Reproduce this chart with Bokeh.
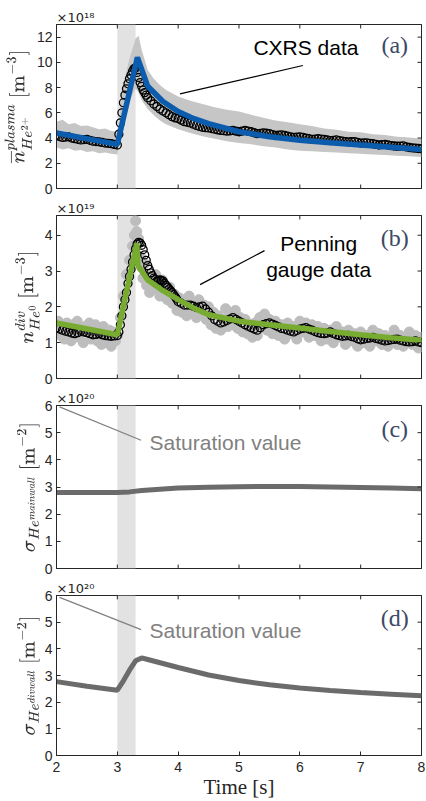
import numpy as np
from bokeh.plotting import figure
from bokeh.layouts import column
from bokeh.models import Range1d, FixedTicker, BoxAnnotation, Label
from bokeh.embed import file_html
from bokeh.resources import INLINE

# ---------------- data ----------------
shade_t = [3.0, 3.3]
x_ticks = [2, 3, 4, 5, 6, 7, 8]

# (a) CXRS helium density [1e18 m^-3]
a_fit_t = [2.0, 3.0, 3.33, 3.5, 3.75, 4.0, 4.25, 4.5, 5.0, 5.5, 6.0, 6.5, 7.0, 7.5, 8.0]
a_fit_v = [4.4, 3.5, 10.4, 8.1, 6.9, 6.1, 5.55, 5.15, 4.5, 4.1, 3.82, 3.62, 3.44, 3.27, 3.1]

a_pts_t = [2.0, 2.1, 2.2, 2.3, 2.4, 2.5, 2.6, 2.7, 2.8, 2.9, 3.0,
           3.025, 3.05, 3.075, 3.1, 3.125, 3.15, 3.175, 3.2, 3.225, 3.25, 3.275, 3.3,
           3.325, 3.35, 3.375, 3.4, 3.425, 3.45, 3.475, 3.5,
           3.6, 3.7, 3.8, 3.9, 4.0, 4.1, 4.2, 4.3, 4.4, 4.5, 4.6, 4.7, 4.8, 4.9,
           5.0, 5.1, 5.2, 5.3, 5.4, 5.5, 5.6, 5.7, 5.8, 5.9, 6.0, 6.1, 6.2, 6.3, 6.4,
           6.5, 6.6, 6.7, 6.8, 6.9, 7.0, 7.1, 7.2, 7.3, 7.4, 7.5, 7.6, 7.7, 7.8, 7.9, 8.0]
a_pts_v = [4.2, 4.05, 4.1, 3.95, 3.85, 3.9, 3.75, 3.7, 3.6, 3.55, 3.45,
           4.3, 5.2, 6.0, 6.8, 7.4, 7.9, 8.3, 8.7, 9.0, 9.3, 9.5, 9.55,
           9.2, 8.8, 8.4, 8.1, 7.8, 7.6, 7.4, 7.2,
           6.7, 6.3, 6.0, 5.7, 5.55, 5.3, 5.2, 5.0, 4.85, 4.8, 4.7, 4.6, 4.55, 4.6,
           4.5, 4.6, 4.5, 4.35, 4.4, 4.35, 4.2, 4.25, 4.15, 4.05, 4.1, 4.0, 3.9, 3.95, 3.9,
           3.8, 3.85, 3.75, 3.7, 3.72, 3.6, 3.62, 3.55, 3.45, 3.5, 3.4, 3.35, 3.38, 3.25, 3.2, 3.15]
a_pts2_t = [2.05, 2.15, 2.25, 2.35, 2.45, 2.55, 2.65, 2.75, 2.85, 2.95,
            3.55, 3.65, 3.75, 3.85, 3.95, 4.05, 4.15, 4.25, 4.35, 4.45, 4.55, 4.65, 4.75,
            4.85, 4.95, 5.05, 5.15, 5.25, 5.35, 5.45, 5.55, 5.65, 5.75, 5.85, 5.95, 6.05,
            6.15, 6.25, 6.35, 6.45, 6.55, 6.65, 6.75, 6.85, 6.95, 7.05, 7.15, 7.25, 7.35,
            7.45, 7.55, 7.65, 7.75, 7.85, 7.95]
a_pts2_v = [4.12, 4.08, 4.0, 3.9, 3.88, 3.82, 3.72, 3.65, 3.58, 3.5,
            6.95, 6.5, 6.15, 5.85, 5.6, 5.42, 5.25, 5.1, 4.92, 4.82, 4.75, 4.65, 4.58,
            4.57, 4.55, 4.55, 4.55, 4.42, 4.37, 4.38, 4.27, 4.22, 4.2, 4.1, 4.07, 4.05,
            3.95, 3.92, 3.92, 3.85, 3.82, 3.8, 3.72, 3.71, 3.66, 3.61, 3.58, 3.5, 3.47,
            3.45, 3.37, 3.36, 3.3, 3.22, 3.17]

a_band_t = [2.0, 2.1, 2.2, 2.3, 2.4, 2.5, 2.6, 2.7, 2.8, 2.9, 3.0, 3.1, 3.2, 3.3, 3.35,
            3.4, 3.5, 3.6, 3.7, 3.8, 3.9, 4.0, 4.2, 4.4, 4.6, 4.8, 5.0, 5.2, 5.4, 5.6,
            5.8, 6.0, 6.2, 6.4, 6.6, 6.8, 7.0, 7.2, 7.4, 7.6, 7.8, 8.0]
a_band_hi = [5.3, 5.45, 5.1, 5.2, 4.95, 5.0, 4.85, 4.7, 4.75, 4.55, 4.5, 8.3, 10.3, 11.9, 12.1,
             11.0, 9.4, 8.7, 8.2, 7.8, 7.55, 7.3, 6.95, 6.7, 6.45, 6.25, 6.1, 5.85, 5.6, 5.4,
             5.25, 5.1, 4.95, 4.75, 4.65, 4.5, 4.45, 4.3, 4.25, 4.1, 4.05, 3.95]
a_band_lo = [3.25, 3.1, 3.2, 3.0, 3.05, 2.9, 2.95, 2.8, 2.85, 2.75, 2.7, 5.4, 7.0, 7.9, 7.6,
             7.0, 6.3, 5.8, 5.4, 5.1, 4.9, 4.7, 4.4, 4.15, 3.95, 3.75, 3.6, 3.5, 3.35, 3.25,
             3.1, 3.0, 2.95, 2.9, 2.85, 2.8, 2.75, 2.7, 2.65, 2.6, 2.55, 2.5]

# (b) Penning gauge helium density [1e19 m^-3]
b_fit_t = [2.0, 3.0, 3.32, 3.34, 3.5, 3.75, 4.0, 4.25, 4.5, 5.0, 5.5, 6.0, 6.5, 7.0, 7.5, 8.0]
b_fit_v = [1.55, 1.22, 3.78, 3.15, 2.75, 2.45, 2.2, 1.97, 1.78, 1.6, 1.5, 1.41, 1.31, 1.22, 1.14, 1.07]

b_pts_t = [2.0, 2.1, 2.2, 2.3, 2.4, 2.5, 2.6, 2.7, 2.8, 2.9, 3.0,
           3.025, 3.05, 3.075, 3.1, 3.125, 3.15, 3.175, 3.2, 3.225, 3.25, 3.275, 3.3,
           3.325, 3.35, 3.375, 3.4, 3.425, 3.45, 3.475, 3.5, 3.525, 3.55,
           3.6, 3.65, 3.7, 3.75, 3.8, 3.85, 3.9, 3.95, 4.0, 4.1, 4.2, 4.3, 4.4, 4.5,
           4.6, 4.7, 4.8, 4.9, 5.0, 5.1, 5.2, 5.3, 5.4, 5.5, 5.6, 5.7, 5.8, 5.9, 6.0,
           6.1, 6.2, 6.3, 6.4, 6.5, 6.6, 6.7, 6.8, 6.9, 7.0, 7.1, 7.2, 7.3, 7.4, 7.5,
           7.6, 7.7, 7.8, 7.9, 8.0]
b_pts_v = [1.42, 1.35, 1.3, 1.25, 1.32, 1.28, 1.22, 1.25, 1.2, 1.18, 1.2,
           1.3, 1.5, 1.75, 2.0, 2.2, 2.4, 2.65, 2.85, 3.05, 3.25, 3.45, 3.62,
           3.75, 3.8, 3.78, 3.72, 3.6, 3.45, 3.3, 3.15, 3.05, 2.95,
           2.8, 2.72, 2.75, 2.72, 2.6, 2.5, 2.4, 2.28, 2.15, 2.05, 2.05, 1.98, 2.02, 1.85,
           1.65, 1.55, 1.62, 1.7, 1.6, 1.5, 1.42, 1.35, 1.5, 1.55, 1.48, 1.4, 1.35, 1.3, 1.38,
           1.42, 1.35, 1.28, 1.25, 1.3, 1.22, 1.18, 1.2, 1.15, 1.08, 1.12, 1.15, 1.1, 1.05, 1.08,
           1.1, 1.05, 1.02, 1.05, 1.0]
b_pts2_t = [2.05, 2.15, 2.25, 2.35, 2.45, 2.55, 2.65, 2.75, 2.85, 2.95,
            3.575, 3.625, 3.675, 3.725, 3.775, 3.825, 3.875, 3.925, 3.975, 4.05, 4.15,
            4.25, 4.35, 4.45, 4.55, 4.65, 4.75, 4.85, 4.95, 5.05, 5.15, 5.25, 5.35, 5.45,
            5.55, 5.65, 5.75, 5.85, 5.95, 6.05, 6.15, 6.25, 6.35, 6.45, 6.55, 6.65, 6.75,
            6.85, 6.95, 7.05, 7.15, 7.25, 7.35, 7.45, 7.55, 7.65, 7.75, 7.85, 7.95]
b_pts2_v = [1.38, 1.32, 1.27, 1.28, 1.3, 1.25, 1.23, 1.22, 1.19, 1.19,
            2.87, 2.76, 2.73, 2.74, 2.66, 2.55, 2.45, 2.34, 2.22, 2.1, 2.05,
            2.02, 2.0, 1.94, 1.75, 1.6, 1.58, 1.66, 1.65, 1.55, 1.46, 1.38, 1.42, 1.53,
            1.52, 1.44, 1.38, 1.32, 1.34, 1.4, 1.38, 1.31, 1.26, 1.27, 1.26, 1.2, 1.19,
            1.17, 1.11, 1.1, 1.13, 1.12, 1.07, 1.06, 1.09, 1.07, 1.03, 1.03, 1.02]

b_raw_t = [2.0, 2.03, 2.07, 2.1, 2.13, 2.17, 2.2, 2.24, 2.27, 2.3, 2.34, 2.37, 2.4, 2.44, 2.47,
           2.5, 2.54, 2.57, 2.6, 2.64, 2.67, 2.7, 2.74, 2.77, 2.8, 2.84, 2.87, 2.9, 2.94, 2.97,
           3.0, 3.05, 3.1, 3.15, 3.2, 3.25, 3.28, 3.3, 3.32, 3.35, 3.38, 3.4, 3.42, 3.45, 3.48,
           3.5, 3.53, 3.56, 3.6, 3.63, 3.66, 3.7, 3.74, 3.78, 3.82, 3.86, 3.9, 3.94, 3.98,
           4.02, 4.06, 4.1, 4.14, 4.18, 4.22, 4.26, 4.3, 4.34, 4.38, 4.42, 4.46, 4.5, 4.54,
           4.58, 4.62, 4.66, 4.7, 4.74, 4.78, 4.82, 4.86, 4.9, 4.94, 4.98, 5.02, 5.06, 5.1,
           5.14, 5.18, 5.22, 5.26, 5.3, 5.34, 5.38, 5.42, 5.46, 5.5, 5.55, 5.6, 5.65, 5.7,
           5.75, 5.8, 5.85, 5.9, 5.95, 6.0, 6.05, 6.1, 6.15, 6.2, 6.25, 6.3, 6.35, 6.4, 6.45,
           6.5, 6.55, 6.6, 6.65, 6.7, 6.75, 6.8, 6.85, 6.9, 6.95, 7.0, 7.05, 7.1, 7.15, 7.2,
           7.25, 7.3, 7.35, 7.4, 7.45, 7.5, 7.55, 7.6, 7.65, 7.7, 7.75, 7.8, 7.85, 7.9, 7.95, 8.0]
b_raw_v = [1.35, 1.6, 1.2, 1.45, 1.1, 1.55, 1.3, 1.05, 1.5, 1.25, 1.6, 1.15, 1.4, 1.0, 1.45,
           1.3, 1.55, 1.1, 1.35, 1.5, 1.05, 1.3, 0.95, 1.45, 1.2, 1.0, 1.35, 0.9, 1.3, 1.05,
           1.2, 1.7, 2.3, 2.9, 3.3, 3.7, 4.0, 4.4, 4.1, 3.9, 3.4, 3.1, 2.8, 3.2, 2.6,
           2.9, 2.4, 2.7, 2.5, 2.9, 2.6, 2.3, 2.75, 2.4, 2.2, 2.55, 2.1, 2.35, 1.9,
           2.25, 1.85, 2.15, 1.75, 2.3, 1.9, 2.1, 1.7, 2.2, 1.85, 2.05, 1.65, 2.0, 1.5,
           1.85, 1.4, 1.75, 1.35, 1.65, 1.95, 1.45, 1.8, 1.5, 1.9, 1.4, 1.7, 1.3, 1.65,
           1.25, 1.5, 1.15, 1.55, 1.2, 1.7, 1.45, 1.8, 1.35, 1.65, 1.25, 1.6, 1.2, 1.5,
           1.1, 1.55, 1.25, 1.45, 1.1, 1.6, 1.3, 1.55, 1.15, 1.5, 1.2, 1.45, 1.05, 1.4, 1.1,
           1.35, 1.0, 1.45, 1.15, 1.3, 0.95, 1.35, 1.05, 1.25, 0.9, 1.3, 1.0, 1.2, 0.9, 1.35,
           1.05, 1.25, 0.95, 1.2, 0.9, 1.15, 1.35, 0.95, 1.2, 0.9, 1.15, 1.3, 0.95, 1.2, 0.85, 1.15]

# (c) main-wall helium areal density [1e20 m^-2]
c_t = [2.0, 2.5, 3.0, 3.2, 3.4, 3.7, 4.0, 4.5, 5.0, 5.5, 6.0, 6.5, 7.0, 7.5, 8.0]
c_v = [2.8, 2.8, 2.8, 2.82, 2.87, 2.92, 2.96, 2.99, 3.01, 3.02, 3.02, 3.0, 2.98, 2.96, 2.94]

# (d) divertor-wall helium areal density [1e20 m^-2]
d_t = [2.0, 2.5, 3.0, 3.1, 3.2, 3.3, 3.4, 3.5, 3.75, 4.0, 4.5, 5.0, 5.5, 6.0, 6.5, 7.0, 7.5, 8.0]
d_v = [2.77, 2.6, 2.45, 2.8, 3.2, 3.55, 3.66, 3.6, 3.45, 3.3, 3.02, 2.81, 2.65, 2.53, 2.44, 2.36, 2.3, 2.24]

# ---------------- styling ----------------
AX = "#262626"
LAB = "#333333"
PANEL = "#3c4966"
SHADE = "#e2e2e2"
W = 426
BL, BR = 56, 5
TICK_PX = 4
xr = Range1d(x_ticks[0], x_ticks[-1])


def make_fig(height, ymax, yticks, top, bottom, ylabel, expo, show_x=False):
    p = figure(width=W, height=height, x_range=xr, y_range=Range1d(0, ymax),
               output_backend="svg", toolbar_location=None,
               min_border_left=BL, min_border_right=BR,
               min_border_top=top, min_border_bottom=bottom)
    p.grid.visible = False
    p.outline_line_color = AX
    p.outline_line_width = 1
    p.background_fill_color = "white"
    p.border_fill_color = "white"
    # exponent label as title, above the top-left corner
    p.title.text = expo
    p.title.align = "left"
    p.title.text_font = "DejaVu Sans"
    p.title.text_font_size = "13px"
    p.title.text_font_style = "normal"
    p.title.text_color = AX
    p.title.standoff = 0
    p.title.offset = 0
    # y axis (left)
    ya = p.yaxis[0]
    ya.ticker = FixedTicker(ticks=yticks)
    ya.axis_line_color = AX
    ya.major_tick_line_color = AX
    ya.major_tick_in = TICK_PX
    ya.major_tick_out = 0
    ya.minor_tick_line_color = None
    ya.major_label_text_font = "Liberation Sans"
    ya.major_label_text_font_size = "14px"
    ya.major_label_text_color = AX
    ya.major_label_standoff = 4
    ya.axis_label = ylabel
    ya.axis_label_text_font_size = "17px"
    ya.axis_label_text_color = LAB
    ya.axis_label_standoff = 2
    xa = p.xaxis[0]
    if show_x:
        xa.ticker = FixedTicker(ticks=x_ticks)
        xa.axis_line_color = AX
        xa.major_tick_line_color = AX
        xa.major_tick_in = TICK_PX
        xa.major_tick_out = 0
        xa.minor_tick_line_color = None
        xa.major_label_text_font = "Liberation Sans"
        xa.major_label_text_font_size = "14px"
        xa.major_label_text_color = AX
        xa.major_label_standoff = 6
        xa.axis_label = "Time [s]"
        xa.axis_label_text_font = "Liberation Serif"
        xa.axis_label_text_font_style = "normal"
        xa.axis_label_text_font_size = "21px"
        xa.axis_label_text_color = AX
        xa.axis_label_standoff = 0
    else:
        xa.visible = False
    # inward ticks on the unlabeled sides (top, right, and bottom when hidden)
    fw = W - BL - BR
    fh = height - top - bottom
    dx = TICK_PX * (x_ticks[-1] - x_ticks[0]) / fw
    dy = TICK_PX * ymax / fh
    p.segment(x0=x_ticks, y0=[ymax] * len(x_ticks), x1=x_ticks,
              y1=[ymax - dy] * len(x_ticks), line_color=AX, line_width=1, level="overlay")
    if not show_x:
        p.segment(x0=x_ticks, y0=[0] * len(x_ticks), x1=x_ticks,
                  y1=[dy] * len(x_ticks), line_color=AX, line_width=1, level="overlay")
    p.segment(x0=[x_ticks[-1]] * len(yticks), y0=yticks,
              x1=[x_ticks[-1] - dx] * len(yticks), y1=yticks,
              line_color=AX, line_width=1, level="overlay")
    p.add_layout(BoxAnnotation(left=shade_t[0], right=shade_t[1], fill_color=SHADE,
                               fill_alpha=1, line_color=None, level="underlay"))
    return p


def panel_label(p, x, y, txt):
    p.add_layout(Label(x=x, y=y, text=txt, text_font="Liberation Serif",
                       text_font_size="24px", text_color=PANEL,
                       text_align="center", text_baseline="middle"))


def note(p, x, y, txt, color, align="center"):
    p.add_layout(Label(x=x, y=y, text=txt, text_font="Liberation Sans",
                       text_font_size="21px", text_color=color,
                       text_align=align, text_baseline="middle"))


# ---- (a)
pa = make_fig(198, 13, [0, 2, 4, 6, 8, 10, 12], 24, 10,
              r"$$\overline{n}^{plasma}_{He^{2+}}\ [\mathrm{m}^{-3}]$$", "×10¹⁸")
pa.varea(x=a_band_t, y1=a_band_lo, y2=a_band_hi, fill_color="#c6c6c6")
pa.scatter(a_pts_t + a_pts2_t, a_pts_v + a_pts2_v, marker="circle", size=8,
           fill_color=None, line_color="black", line_width=1.3)
pa.line(a_fit_t, a_fit_v, line_color="#0b5cad", line_width=5.5)
pa.segment(x0=4.03, y0=7.5, x1=6.05, y1=9.75, line_color="black", line_width=1.2)
note(pa, 6.1, 11.2, "CXRS data", "black")
panel_label(pa, 7.56, 11.4, "(a)")

# ---- (b)
pb = make_fig(190, 4.55, [0, 1, 2, 3, 4], 15, 10,
              r"$$n^{div}_{He^{0}}\ [\mathrm{m}^{-3}]$$", "×10¹⁹")
pb.scatter(b_raw_t, b_raw_v, marker="circle", size=10, fill_color="#bdbdbd",
           line_color="#bdbdbd")
pb.scatter(b_pts_t + b_pts2_t, b_pts_v + b_pts2_v, marker="circle", size=8,
           fill_color=None, line_color="black", line_width=1.3)
pb.line(b_fit_t, b_fit_v, line_color="#77ac30", line_width=5.5)
pb.segment(x0=4.36, y0=2.62, x1=5.42, y1=3.57, line_color="black", line_width=1.2)
note(pb, 6.31, 3.76, "Penning", "black")
note(pb, 6.31, 3.04, "gauge data", "black")
panel_label(pb, 7.56, 3.93, "(b)")

# ---- (c)
pc = make_fig(190, 6, [0, 1, 2, 3, 4, 5, 6], 15, 10,
              r"$$\sigma_{He^{mainwall}}\ [\mathrm{m}^{-2}]$$", "×10²⁰")
pc.line(c_t, c_v, line_color="#6b6b6b", line_width=5)
pc.segment(x0=2.05, y0=5.95, x1=3.39, y1=4.72, line_color="#808080", line_width=1.2)
note(pc, 3.53, 4.63, "Saturation value", "#808080", align="left")
panel_label(pc, 7.56, 5.13, "(c)")

# ---- (d)
pd = make_fig(223, 6, [0, 1, 2, 3, 4, 5, 6], 15, 43,
              r"$$\sigma_{He^{divwall}}\ [\mathrm{m}^{-2}]$$", "×10²⁰", show_x=True)
pd.line(d_t, d_v, line_color="#6b6b6b", line_width=5)
pd.segment(x0=2.05, y0=5.93, x1=3.39, y1=4.72, line_color="#808080", line_width=1.2)
note(pd, 3.53, 4.69, "Saturation value", "#808080", align="left")
panel_label(pd, 7.56, 5.17, "(d)")

layout = column(pa, pb, pc, pd, spacing=0)
open("out.html", "w").write(file_html(layout, INLINE))
